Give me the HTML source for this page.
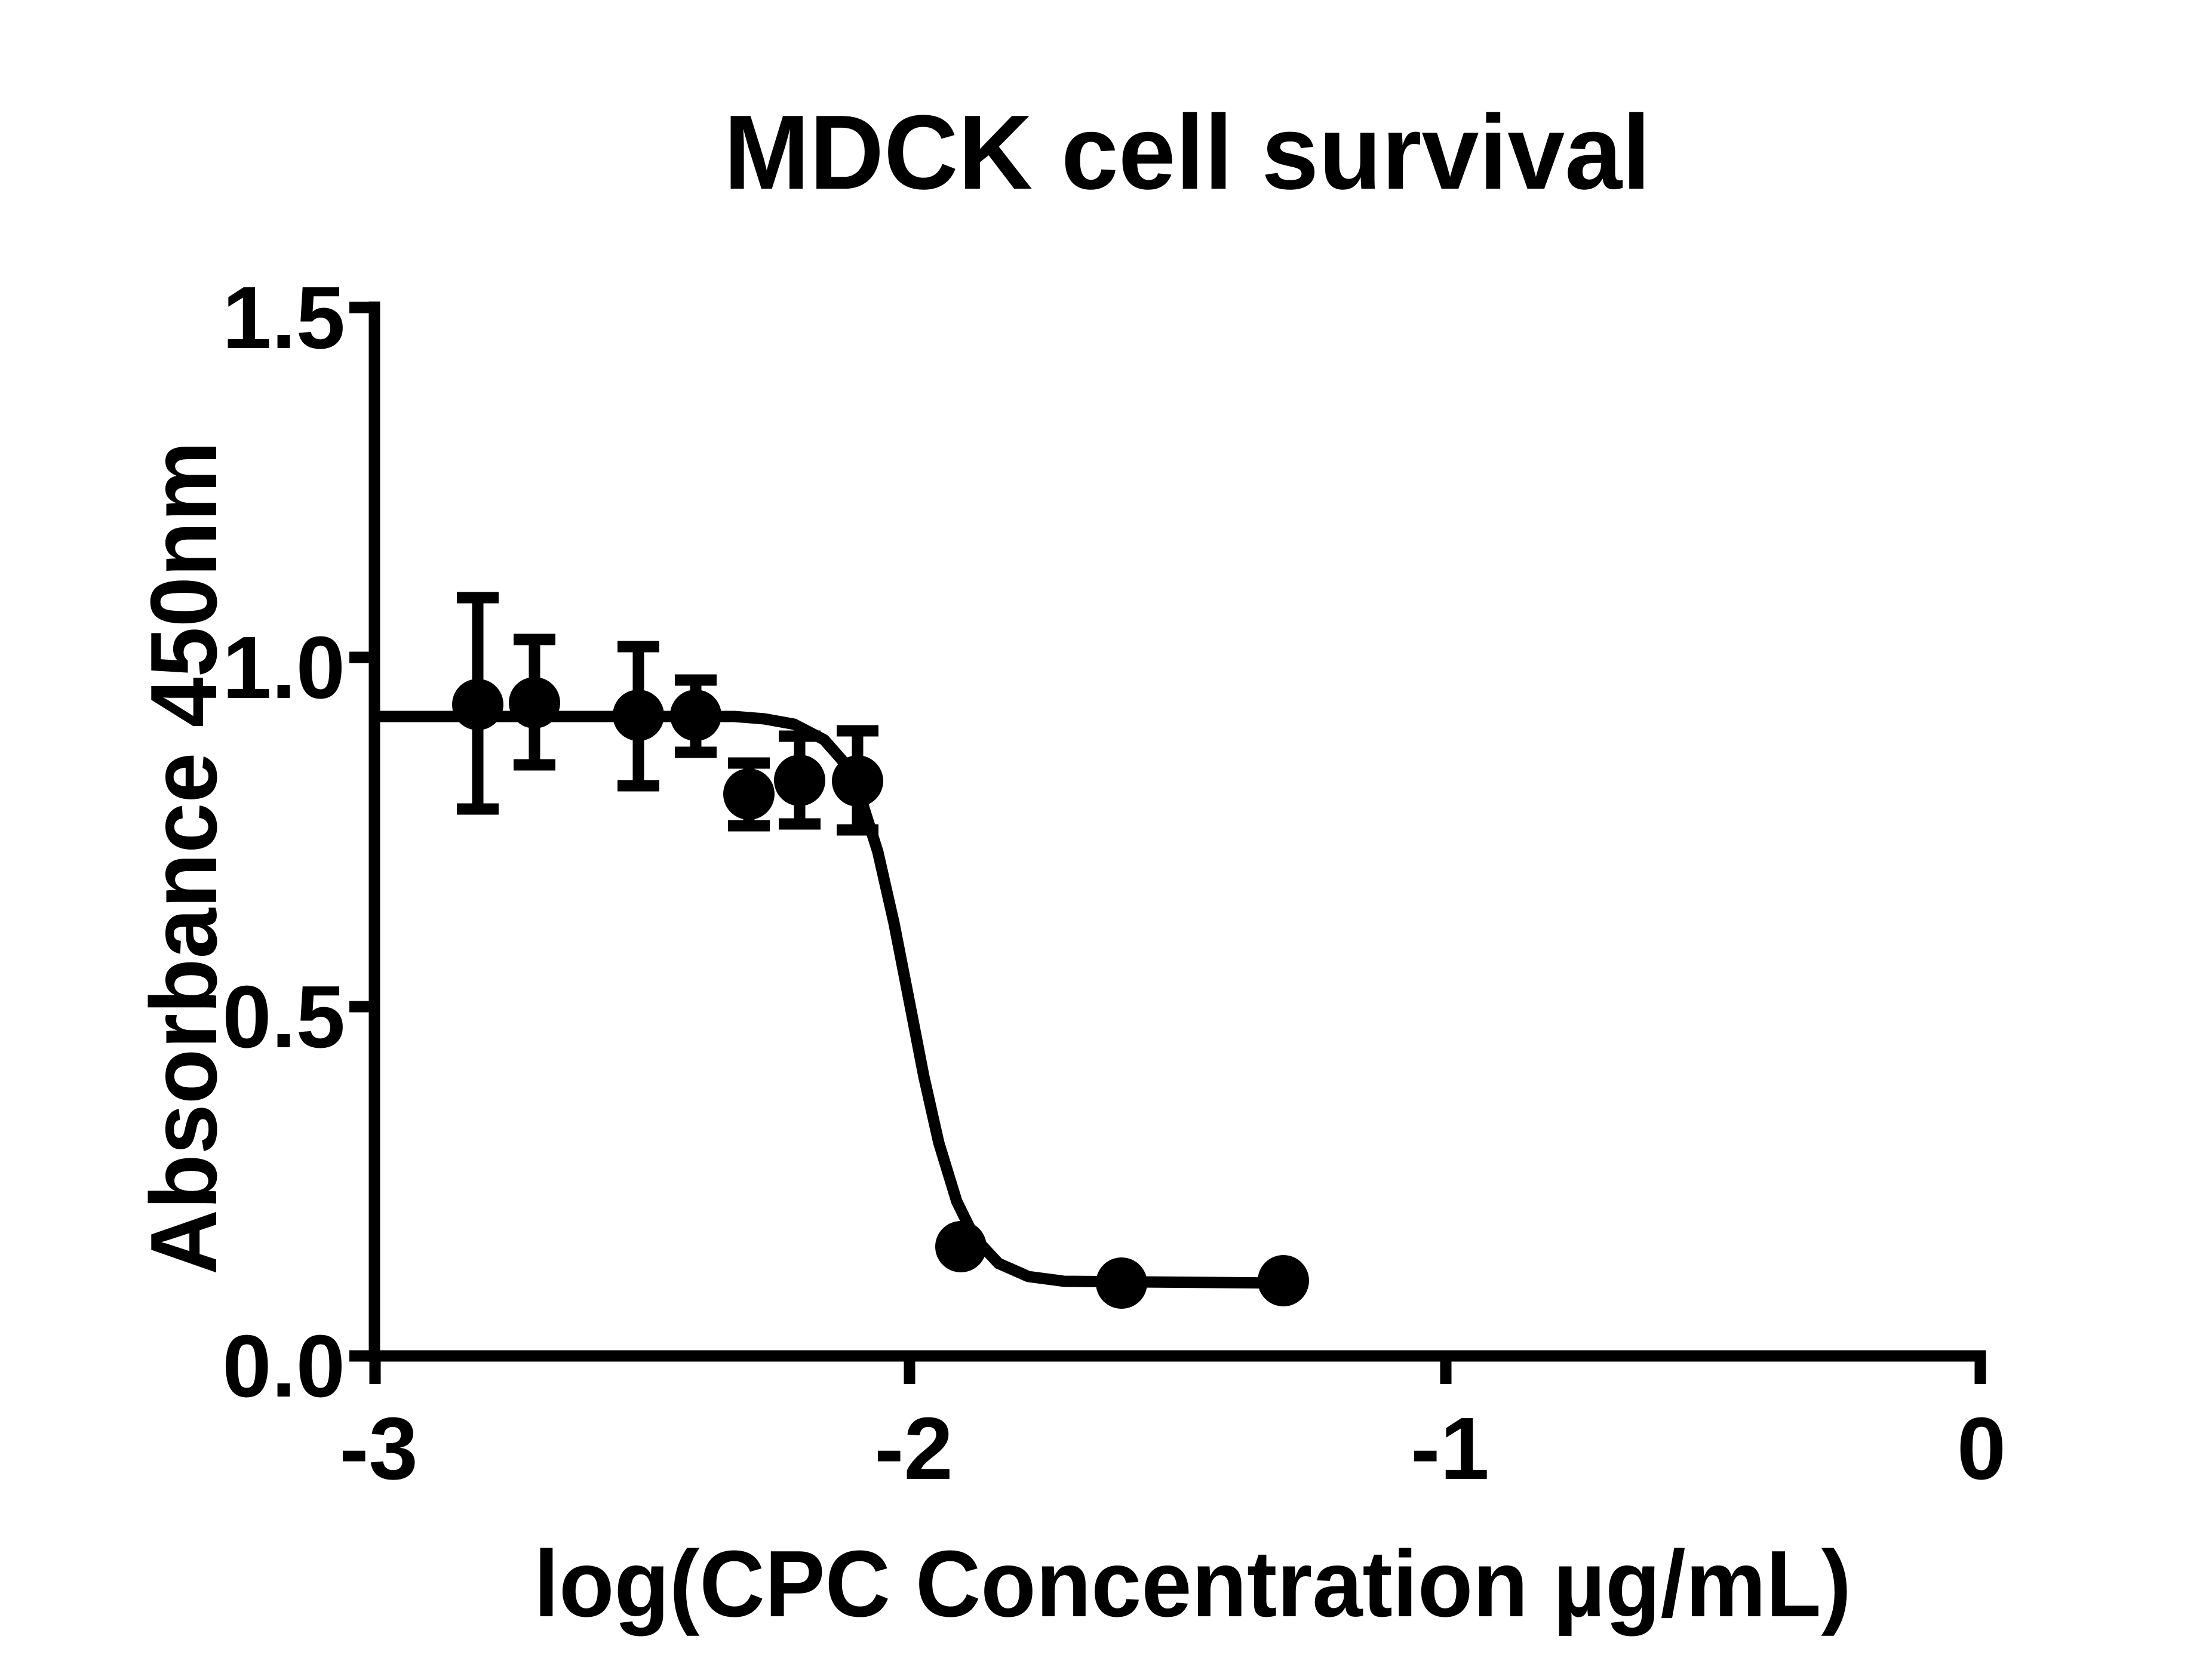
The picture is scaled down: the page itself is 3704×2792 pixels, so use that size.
<!DOCTYPE html>
<html><head><meta charset="utf-8"><style>html,body{margin:0;padding:0;background:#fff}svg{display:block}</style></head>
<body>
<svg width="3704" height="2792" viewBox="0 0 3704 2792" xmlns="http://www.w3.org/2000/svg" font-family="Liberation Sans, Arial, sans-serif" font-weight="bold">
<rect width="3704" height="2792" fill="#fff"/>
<text x="1988" y="316" font-size="177" text-anchor="middle" textLength="1552" lengthAdjust="spacingAndGlyphs">MDCK cell survival</text>
<g stroke="#000" stroke-width="19" fill="none" stroke-linecap="butt">
<line x1="627" y1="505" x2="627" y2="2281"/>
<line x1="618" y1="2271" x2="3325" y2="2271"/>
<line x1="585" y1="515" x2="636" y2="515"/>
<line x1="585" y1="1101" x2="636" y2="1101"/>
<line x1="585" y1="1686" x2="636" y2="1686"/>
<line x1="585" y1="2271" x2="636" y2="2271"/>
<line x1="628" y1="2262" x2="628" y2="2318"/>
<line x1="1523" y1="2262" x2="1523" y2="2318"/>
<line x1="2421" y1="2262" x2="2421" y2="2318"/>
<line x1="3316" y1="2262" x2="3316" y2="2318"/>
</g>
<g font-size="148" text-anchor="end">
<text x="578" y="583">1.5</text>
<text x="578" y="1169">1.0</text>
<text x="578" y="1754">0.5</text>
<text x="578" y="2339">0.0</text>
</g>
<g font-size="148" text-anchor="middle">
<text x="634" y="2477">-3</text>
<text x="1530" y="2477">-2</text>
<text x="2428" y="2477">-1</text>
<text x="3318" y="2477">0</text>
</g>
<text x="1997" y="2707" font-size="158" text-anchor="middle" textLength="2206" lengthAdjust="spacingAndGlyphs">log(CPC Concentration µg/mL)</text>
<text transform="translate(362,1437) rotate(-90)" font-size="158" text-anchor="middle" textLength="1396" lengthAdjust="spacingAndGlyphs">Absorbance 450nm</text>
<polyline fill="none" stroke="#000" stroke-width="19" stroke-linejoin="round" points="627,1200 1230,1200 1280,1204 1330,1213 1380,1239 1410,1273 1440,1332 1470,1427 1497,1546 1522,1674 1547,1803 1572,1914 1602,2012 1632,2073 1672,2116 1722,2138 1782,2146 2149,2149"/>
<g stroke="#000" stroke-width="19" fill="none">
<line x1="800" y1="1001" x2="800" y2="1355"/><line x1="765" y1="1001" x2="835" y2="1001"/><line x1="765" y1="1355" x2="835" y2="1355"/>
<line x1="895" y1="1071" x2="895" y2="1281"/><line x1="860" y1="1071" x2="930" y2="1071"/><line x1="860" y1="1281" x2="930" y2="1281"/>
<line x1="1069" y1="1083" x2="1069" y2="1316"/><line x1="1034" y1="1083" x2="1104" y2="1083"/><line x1="1034" y1="1316" x2="1104" y2="1316"/>
<line x1="1165" y1="1139" x2="1165" y2="1260"/><line x1="1130" y1="1139" x2="1200" y2="1139"/><line x1="1130" y1="1260" x2="1200" y2="1260"/>
<line x1="1254" y1="1278" x2="1254" y2="1383"/><line x1="1219" y1="1278" x2="1289" y2="1278"/><line x1="1219" y1="1383" x2="1289" y2="1383"/>
<line x1="1339" y1="1233" x2="1339" y2="1380"/><line x1="1304" y1="1233" x2="1374" y2="1233"/><line x1="1304" y1="1380" x2="1374" y2="1380"/>
<line x1="1436" y1="1224" x2="1436" y2="1390"/><line x1="1401" y1="1224" x2="1471" y2="1224"/><line x1="1401" y1="1390" x2="1471" y2="1390"/>
</g>
<g fill="#000">
<circle cx="800" cy="1180" r="43"/>
<circle cx="895" cy="1177" r="43"/>
<circle cx="1069" cy="1198" r="43"/>
<circle cx="1165" cy="1198" r="43"/>
<circle cx="1254" cy="1330" r="43"/>
<circle cx="1339" cy="1307" r="43"/>
<circle cx="1436" cy="1308" r="43"/>
<circle cx="1609" cy="2088" r="43"/>
<circle cx="1878" cy="2149" r="43"/>
<circle cx="2149" cy="2145" r="43"/>
</g>
</svg>
</body></html>
